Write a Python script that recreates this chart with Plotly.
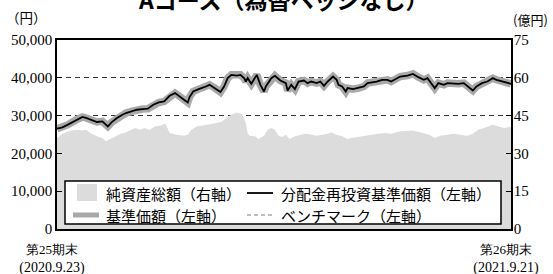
import plotly.graph_objects as go

# ---------------- data ----------------
# x = business-day index from 第25期末 (0) to 第26期末 (250)
nav_day = [0, 3, 6, 10, 14, 16, 19, 22, 25, 27, 28, 30, 33, 36, 38, 41, 44, 47, 50, 53,
           56, 59, 61, 62, 65, 68, 70, 72, 73, 75, 78, 80, 82, 84, 87, 90, 92, 94, 96, 99,
           101, 103, 104, 105, 107, 109, 110, 112, 114, 115, 118, 120, 123, 126, 127, 129, 131, 133, 136, 138,
           140, 143, 145, 147, 149, 152, 154, 155, 157, 159, 160, 163, 166, 169, 171, 173, 176, 179, 182, 184,
           187, 189, 193, 196, 199, 202, 204, 206, 208, 210, 213, 215, 218, 221, 224, 226, 229, 231, 234, 237,
           240, 242, 245, 248, 250]
nav_value = [26550, 26890, 27600, 28730, 29630, 29370, 28920, 28310, 28470, 27600, 27150, 28210, 29370, 30240, 30680, 31100, 31550, 31730, 31820, 32870,
             33480, 33740, 34630, 35240, 35960, 34900, 34000, 33480, 34900, 36380, 37010, 37270, 37700, 38140, 37270, 36220, 37700, 39910, 40780, 40600,
             40780, 39910, 39010, 39910, 38410, 39910, 40780, 38140, 36380, 37700, 39910, 40520, 39280, 38590, 36640, 38140, 37010, 39010, 39280, 38590,
             39010, 38590, 39010, 37880, 39010, 40330, 39460, 38140, 37700, 36380, 37270, 37010, 37270, 37700, 38590, 38750, 39010, 39460, 39460, 39010,
             39910, 40330, 40600, 41040, 40170, 39460, 39910, 38590, 37270, 38590, 38140, 38590, 38410, 38410, 38590, 37700, 36640, 37700, 38590, 39010,
             39910, 39460, 39010, 38590, 38410]
# no distributions in the period: reinvested NAV equals NAV
reinvested_value = list(nav_value)

asset_day = [0, 3, 5, 8, 11, 14, 16, 19, 22, 25, 27, 29, 32, 35, 37, 40, 43, 46, 48, 51,
             54, 57, 59, 60, 62, 66, 70, 72, 74, 77, 80, 82, 85, 88, 91, 93, 96, 99, 102, 104,
             105, 106, 109, 111, 114, 116, 118, 120, 122, 124, 126, 128, 131, 134, 137, 140, 143, 146, 149, 151,
             154, 157, 160, 162, 165, 168, 171, 174, 177, 181, 184, 189, 193, 196, 200, 203, 205, 208, 211, 215,
             218, 222, 226, 229, 232, 235, 238, 240, 243, 246, 250]
asset_value = [36.1, 37.8, 38.4, 39.1, 39.4, 39.1, 39.4, 37.8, 36.8, 36.1, 34.8, 35.5, 36.8, 37.8, 38.1, 39.1, 40.1, 39.4, 40.1, 39.4,
               40.7, 41.0, 41.8, 41.5, 38.1, 37.4, 37.0, 37.4, 39.4, 40.7, 41.0, 41.4, 41.8, 42.1, 42.7, 44.0, 45.3, 46.2, 45.6, 42.0,
               38.1, 37.0, 36.8, 35.7, 37.0, 39.4, 40.1, 39.4, 37.0, 36.5, 37.4, 35.7, 36.8, 37.4, 37.8, 37.4, 37.0, 37.4, 37.8, 38.4,
               37.4, 36.8, 35.7, 36.1, 36.5, 36.8, 37.0, 37.4, 37.8, 38.1, 37.8, 38.8, 38.8, 39.1, 38.4, 37.8, 37.4, 36.1, 37.0, 37.4,
               37.8, 37.4, 37.0, 37.8, 39.4, 40.1, 41.0, 41.4, 40.7, 40.1, 40.5]

assert len(nav_day) == len(nav_value)
assert len(asset_day) == len(asset_value)

left_ticks = [0, 10000, 20000, 30000, 40000, 50000]
right_ticks = [0, 15, 30, 45, 60, 75]
x_tick_days = [0, 250]
x_tick_labels = ["<span style='font-size:13px'>第25期末</span><br>(2020.9.23)",
                 "<span style='font-size:13px'>第26期末</span><br>(2021.9.21)"]
title_text = "Aコース（為替ヘッジなし）"
legend_labels = ["純資産総額（右軸）", "基準価額（左軸）",
                 "分配金再投資基準価額（左軸）", "ベンチマーク（左軸）"]

# ---------------- figure ----------------
W, H = 553, 274
ML, MR, MT, MB = 57, 42, 40, 45
PW, PH = W - ML - MR, H - MT - MB

def px(X):
    return (X - ML) / PW

def py(Y):
    return (H - MB - Y) / PH

SERIF = "Liberation Serif, Times New Roman, DejaVu Serif, serif"
JP = "Noto Sans CJK JP, Noto Sans"
AREA_C = "#dcdcdc"
GRAY_C = "#a9a9a9"

fig = go.Figure()
fig.add_trace(go.Scatter(x=asset_day, y=asset_value, mode="lines", fill="tozeroy",
                         fillcolor=AREA_C, line=dict(width=0, color=AREA_C),
                         yaxis="y", name=legend_labels[0], hoverinfo="skip"))
fig.add_trace(go.Scatter(x=nav_day, y=nav_value, mode="lines",
                         line=dict(color=GRAY_C, width=7.5), yaxis="y2", name=legend_labels[1]))
fig.add_trace(go.Scatter(x=nav_day, y=reinvested_value, mode="lines",
                         line=dict(color="black", width=1.8), yaxis="y2", name=legend_labels[2]))

tickfont = dict(family=SERIF, size=15, color="black")
fig.update_layout(
    width=W, height=H, margin=dict(l=ML, r=MR, t=MT, b=MB, autoexpand=False),
    paper_bgcolor="white", plot_bgcolor="white", showlegend=False,
    xaxis=dict(range=[0, 250], tickvals=x_tick_days, ticktext=x_tick_labels,
               showline=True, linecolor="black", linewidth=1.5, mirror=True,
               ticks="", showgrid=False, zeroline=False, ticklabelshift=-5,
               ticklabelstandoff=6, automargin=False,
               tickfont=dict(family=SERIF, size=14, color="black")),
    yaxis=dict(side="right", range=[0, 75], tickvals=right_ticks, showgrid=False,
               zeroline=False, showline=True, linecolor="black", linewidth=1.5,
               ticks="inside", ticklen=5, tickcolor="black", tickwidth=1.2,
               ticklabelstandoff=-2, automargin=False, tickfont=tickfont),
    yaxis2=dict(overlaying="y", side="left", range=[0, 50000], tickvals=left_ticks,
                tickformat=",", showgrid=True, gridcolor="#333333", griddash="5px,4px",
                gridwidth=1.2, zeroline=False, showline=True, linecolor="black",
                linewidth=1.5, ticks="inside", ticklen=5, tickcolor="black", tickwidth=1.2,
                automargin=False, tickfont=tickfont),
)

# title and unit labels
fig.add_annotation(text=title_text, xref="paper", yref="paper", x=px(283), y=py(-1.5),
                   xanchor="center", yanchor="middle", showarrow=False,
                   font=dict(family=JP, size=23, color="black", weight="bold"))
fig.add_annotation(text="（円）", xref="paper", yref="paper", x=px(26), y=py(17.5),
                   xanchor="center", yanchor="middle", showarrow=False,
                   font=dict(family=JP, size=13.5, color="black"))
fig.add_annotation(text="(億円)", xref="paper", yref="paper", x=px(511), y=py(19.5),
                   xanchor="left", yanchor="middle", showarrow=False,
                   font=dict(family=JP, size=13, color="black"))

# legend box (drawn manually to match the 2x2 layout)
fig.add_shape(type="rect", xref="paper", yref="paper", x0=px(65), x1=px(501), y0=py(224), y1=py(181),
              line=dict(color="black", width=1.5), fillcolor="white", layer="above")
fig.add_shape(type="rect", xref="paper", yref="paper", x0=px(77), x1=px(97), y0=py(201), y1=py(184),
              line=dict(width=0), fillcolor=AREA_C, layer="above")
fig.add_shape(type="line", xref="paper", yref="paper", x0=px(73), x1=px(99), y0=py(215), y1=py(215),
              line=dict(color=GRAY_C, width=5), layer="above")
fig.add_shape(type="line", xref="paper", yref="paper", x0=px(247), x1=px(273), y0=py(193), y1=py(193),
              line=dict(color="black", width=1.8), layer="above")
fig.add_shape(type="line", xref="paper", yref="paper", x0=px(247), x1=px(273), y0=py(215), y1=py(215),
              line=dict(color=GRAY_C, width=1.5, dash="4px,3px"), layer="above")
for label, X, Y in zip(legend_labels, [104, 104, 279, 279], [193, 215, 193, 215]):
    fig.add_annotation(text=label, xref="paper", yref="paper", x=px(X), y=py(Y),
                       xanchor="left", yanchor="middle", showarrow=False,
                       font=dict(family=JP, size=15, color="black"))

# remove the browser's default 8px body margin so the figure starts at the page corner
fig.write_html("out.html", config={"displayModeBar": False},
               post_script="document.body.style.margin='0';")
